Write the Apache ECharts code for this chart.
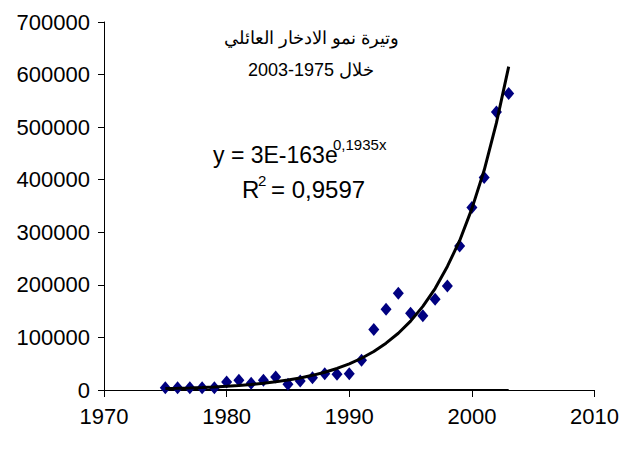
<!DOCTYPE html>
<html><head><meta charset="utf-8">
<script src="https://cdn.jsdelivr.net/npm/echarts@6/dist/echarts.min.js"></script>
<style>html,body{margin:0;padding:0;background:#fff}#c{width:622px;height:449px}</style>
</head><body><div id="c"></div>
<script>
const years = [1975,1976,1977,1978,1979,1980,1981,1982,1983,1984,1985,1986,1987,1988,1989,1990,1991,1992,1993,1994,1995,1996,1997,1998,1999,2000,2001,2002,2003];
const savings = [4400,4400,4400,4400,4400,15200,18400,12700,18400,24700,10800,17100,23400,31000,29800,31000,56500,115000,153500,184000,146000,141000,172500,198000,274000,347000,404000,529000,564000];
const trend = [2700,3300,4000,4900,5900,7200,8700,10600,12800,15600,18900,23000,27900,33800,41000,49800,60400,73300,89000,108000,131000,159000,193000,235000,284000,345000,418000,508000,615000];
const baseline = years.map(() => 0);
const xTicks = {min:1970, max:2010, interval:10};
const yTicks = {min:0, max:700000, interval:100000};
const titleLines = ['وتيرة نمو الادخار العائلي', 'خلال 1975-2003'];
const eqMain = 'y = 3E-163e';
const eqSup = '0,1935x';
const r2 = '0,9597';

const font = '"Liberation Sans", Arial, sans-serif';
const chart = echarts.init(document.getElementById('c'), null, {renderer:'svg'});
chart.setOption({
  animation:false,
  backgroundColor:'#fff',
  grid:{left:104, right:26, top:22, bottom:59, containLabel:false},
  xAxis:{type:'value', min:xTicks.min, max:xTicks.max, interval:xTicks.interval,
    axisLine:{lineStyle:{color:'#000', width:1}},
    axisTick:{show:true, inside:false, length:7, lineStyle:{color:'#000'}},
    axisLabel:{fontFamily:font, fontSize:22, color:'#000', margin:15, formatter:v=>String(v)},
    splitLine:{show:false}},
  yAxis:{type:'value', min:yTicks.min, max:yTicks.max, interval:yTicks.interval,
    axisLine:{show:true, lineStyle:{color:'#000', width:1}},
    axisTick:{show:true, inside:false, length:6, lineStyle:{color:'#000'}},
    axisLabel:{fontFamily:font, fontSize:22, color:'#000', margin:14, formatter:v=>String(v)},
    splitLine:{show:false}},
  series:[
    {type:'line', data:years.map((y,i)=>[y,baseline[i]]), symbol:'none',
      lineStyle:{color:'#000', width:2}, z:1},
    {type:'scatter', data:years.map((y,i)=>[y,savings[i]]), symbol:'diamond',
      symbolSize:[11,13], itemStyle:{color:'#000080', opacity:1}, z:3},
    {type:'line', data:years.map((y,i)=>[y,trend[i]]), symbol:'none',
      lineStyle:{color:'#000', width:3}, z:4}
  ],
  graphic:[
    {type:'text', x:311, y:38, style:{text:titleLines[0], font:'18px '+font, fill:'#000', align:'center', verticalAlign:'middle'}},
    {type:'text', x:311, y:70, style:{text:titleLines[1], font:'18px '+font, fill:'#000', align:'center', verticalAlign:'middle'}},
    {type:'text', x:213, y:155, style:{text:eqMain, font:'23px '+font, fill:'#000', align:'left', verticalAlign:'middle'}},
    {type:'text', x:333, y:144, style:{text:eqSup, font:'15px '+font, fill:'#000', align:'left', verticalAlign:'middle'}},
    {type:'text', x:242, y:189, style:{text:'R', font:'24px '+font, fill:'#000', align:'left', verticalAlign:'middle'}},
    {type:'text', x:258, y:180, style:{text:'2', font:'15px '+font, fill:'#000', align:'left', verticalAlign:'middle'}},
    {type:'text', x:271, y:189, style:{text:'= ' + r2, font:'24px '+font, fill:'#000', align:'left', verticalAlign:'middle'}}
  ]
});
</script></body></html>
